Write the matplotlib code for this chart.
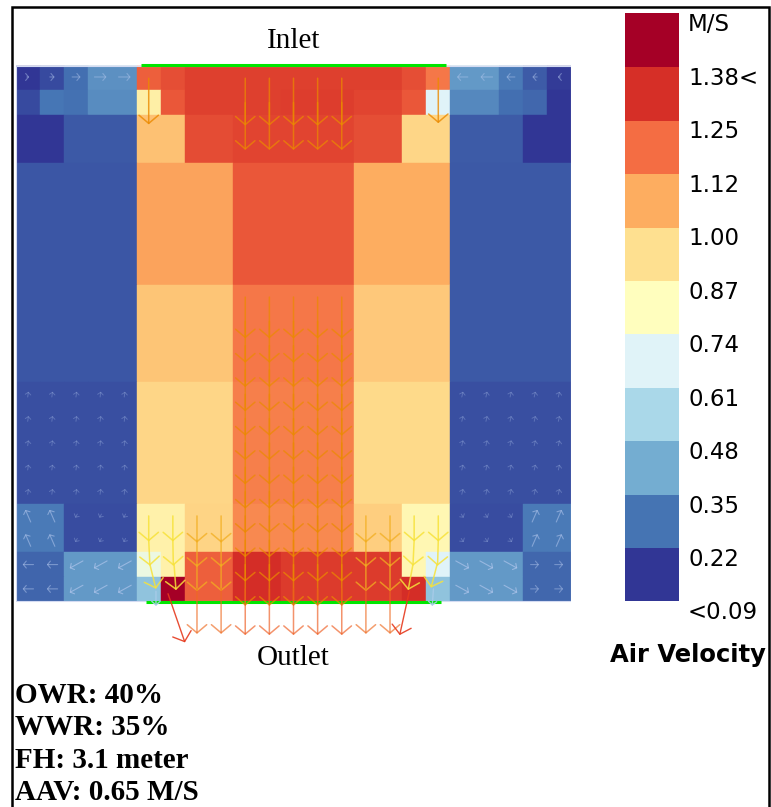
import numpy as np
import matplotlib
matplotlib.use("Agg")
import matplotlib.pyplot as plt
from matplotlib.colors import ListedColormap, Normalize
from matplotlib.patches import Rectangle

# cell edges of the room section, grid units (y counted downward from the inlet)
x_edges = [0, 1, 2, 3, 5, 6, 7, 9, 11, 14, 16, 17, 18, 20, 21, 22, 23]
y_edges = [0, 1, 2, 4, 9, 13, 18, 20, 21, 22]

# air velocity per cell (M/S), one list per band of rows
vel_0_1 = [0.15, 0.20, 0.275, 0.35, 1.215, 1.25, 1.28, 1.28, 1.28, 1.28, 1.25, 1.165, 0.37, 0.30, 0.235, 0.17]
vel_1_2 = [0.20, 0.29, 0.28, 0.34, 0.87, 1.23, 1.28, 1.28, 1.285, 1.27, 1.23, 0.67, 0.33, 0.275, 0.26, 0.16]
vel_2_4 = [0.15, 0.15, 0.23, 0.23, 1.01, 1.01, 1.255, 1.27, 1.27, 1.25, 0.955, 0.955, 0.235, 0.235, 0.16, 0.16]
vel_4_9 = [0.225, 0.225, 0.225, 0.225, 1.08, 1.08, 1.08, 1.23, 1.23, 1.06, 1.06, 1.06, 0.23, 0.23, 0.23, 0.23]
vel_9_13 = [0.225, 0.225, 0.225, 0.225, 1.00, 1.00, 1.00, 1.165, 1.165, 0.99, 0.99, 0.99, 0.23, 0.23, 0.23, 0.23]
vel_13_18 = [0.21, 0.21, 0.21, 0.21, 0.955, 0.955, 0.955, 1.15, 1.15, 0.945, 0.945, 0.945, 0.21, 0.21, 0.21, 0.21]
vel_18_20 = [0.30, 0.30, 0.205, 0.205, 0.86, 0.86, 0.96, 1.13, 1.13, 0.975, 0.835, 0.835, 0.205, 0.205, 0.30, 0.30]
vel_20_21 = [0.255, 0.255, 0.37, 0.37, 0.72, 0.86, 1.215, 1.32, 1.29, 1.29, 0.835, 0.67, 0.37, 0.37, 0.26, 0.26]
vel_21_22 = [0.255, 0.255, 0.37, 0.37, 0.48, 1.46, 1.215, 1.32, 1.29, 1.29, 1.32, 0.48, 0.37, 0.37, 0.26, 0.26]

# legend
cbar_labels = ["<0.09", "0.22", "0.35", "0.48", "0.61", "0.74", "0.87",
               "1.00", "1.12", "1.25", "1.38<", "M/S"]

info_lines = ["OWR: 40%", "WWR: 35%", "FH: 3.1 meter", "AAV: 0.65 M/S"]

# velocity vectors (tail x, tail y, u, v) in grid units, v > 0 points down
jet_cols = [9.5, 10.5, 11.5, 12.5, 13.5]
inlet_rows = [0.5, 1.5]
jet_rows = [9.5, 10.5, 11.5, 12.5, 13.5, 14.5, 15.5, 16.5, 17.5, 18.5, 19.5, 20.5]
side_cols = [7.5, 8.5, 14.5, 15.5]
side_rows = [18.5, 19.5, 20.5]

corner_x = [5.5, 5.5, 5.55, 6.5, 6.5, 6.55, 16.5, 16.5, 16.45, 17.5, 17.5, 17.45]
corner_y = [18.5, 19.5, 20.5, 18.5, 19.5, 20.5, 18.5, 19.5, 20.5, 18.5, 19.5, 20.5]
corner_u = [0.0, 0.05, 0.25, 0.0, 0.02, 0.08, 0.0, -0.05, -0.2, 0.0, -0.03, -0.25]
corner_v = [1.05, 1.05, 1.0, 1.05, 1.05, 1.05, 1.05, 1.05, 1.05, 1.05, 1.05, 0.95]

exit_x = [6.3, 16.3]
exit_y = [21.7, 21.6]
exit_u = [0.7, -0.4]
exit_v = [2.0, 1.8]

# slow air in the side zones (drawn centred on the grid point)
top_left_u = [0.1, 0.2, 0.35, 0.5, 0.5]
top_right_u = [-0.45, -0.5, -0.35, -0.2, -0.1]
left_cols = [0.5, 1.5, 2.5, 3.5, 4.5]
right_cols = [18.5, 19.5, 20.5, 21.5, 22.5]
mid_rows = [13.5, 14.5, 15.5, 16.5, 17.5]

cmap = plt.get_cmap("RdYlBu_r")
norm = Normalize(vmin=0.155, vmax=1.445)

fig = plt.figure(figsize=(7.71, 8.07), dpi=100)

ax = fig.add_axes([16 / 771, (807 - 674) / 807, 555 / 771, (674 - 17.4) / 807])
ax.set_xlim(0, 23)
ax.set_ylim(25, -2)
ax.axis("off")

vel = np.array([vel_0_1, vel_1_2, vel_2_4, vel_4_9, vel_9_13,
                vel_13_18, vel_18_20, vel_20_21, vel_21_22])
ax.pcolormesh(x_edges, y_edges, vel, cmap=cmap, norm=norm, edgecolors="face",
              linewidth=0.3, antialiased=True)
ax.add_patch(Rectangle((0, 0), 23, 22, fill=False, ec="#d4dbf2", lw=0.8))


def arrow(x, y, u, v, color, lw, head, alpha=1.0, middle=False):
    if middle:
        x, y = x - u / 2, y - v / 2
    style = "->,head_length=%.2f,head_width=%.2f" % (head * 0.85, head)
    ax.annotate("", xy=(x + u, y + v), xytext=(x, y), annotation_clip=False,
                arrowprops=dict(arrowstyle=style, color=color, lw=lw, alpha=alpha,
                                shrinkA=0, shrinkB=0, mutation_scale=10))


jet_color = "#eb8a00"
# inlet
for cx in jet_cols:
    for ry in inlet_rows:
        arrow(cx, ry, 0, 1.95, jet_color, 1.1, 0.7, 0.7)
arrow(5.5, 0.5, 0, 1.9, jet_color, 1.1, 0.7, 0.8)
arrow(17.5, 0.5, 0, 1.85, jet_color, 1.1, 0.7, 0.8)
# central jet
for cx in jet_cols:
    for ry in jet_rows:
        arrow(cx, ry, 0, 1.7, jet_color, 1.1, 0.7, 0.7)
    arrow(cx, 21.5, 0, 1.9, "#ee5a1e", 1.1, 0.7, 0.65)
# side jets
for cx in side_cols:
    for ry in side_rows:
        arrow(cx, ry, 0, 1.1, "#f2ae20", 1.1, 0.7, 0.75)
    arrow(cx, 21.5, 0, 1.85, "#ee6a20", 1.1, 0.7, 0.65)
# corners
for x, y, u, v in zip(corner_x, corner_y, corner_u, corner_v):
    arrow(x, y, u, v, "#f7e23a", 1.1, 0.7, 0.85)
for x, y, u, v in zip(exit_x, exit_y, exit_u, exit_v):
    arrow(x, y, u, v, "#e63a1e", 1.0, 0.7, 0.9)
arrow(5.8, 21.6, 0, 0.6, "#a8cbe8", 1.0, 0.3, 0.9)
arrow(17.3, 21.5, -0.05, 0.7, "#a8cbe8", 1.0, 0.3, 0.9)

slow = "#b4c8ee"
for cx, u in zip(left_cols, top_left_u):
    arrow(cx, 0.45, u, 0, slow, 0.8, 0.25, 0.45, middle=True)
for cx, u in zip(right_cols, top_right_u):
    arrow(cx, 0.45, u, 0, slow, 0.8, 0.25, 0.45, middle=True)
for ry in mid_rows:
    for cx in left_cols:
        arrow(cx, ry, 0.03, -0.22, slow, 0.7, 0.2, 0.3, middle=True)
    for cx in right_cols:
        arrow(cx, ry, 0.05, -0.22, slow, 0.7, 0.2, 0.3, middle=True)
for ry in [18.5, 19.5]:
    for cx in left_cols[:2]:
        arrow(cx, ry, -0.22, -0.5, slow, 0.8, 0.25, 0.55, middle=True)
    for cx in left_cols[2:]:
        arrow(cx, ry, -0.08, 0.15, slow, 0.7, 0.2, 0.3, middle=True)
    for cx in right_cols[:3]:
        arrow(cx, ry, 0.1, 0.15, slow, 0.7, 0.2, 0.3, middle=True)
    for cx in right_cols[3:]:
        arrow(cx, ry, 0.22, -0.5, slow, 0.8, 0.25, 0.55, middle=True)
for ry in [20.5, 21.5]:
    for cx in left_cols[:2]:
        arrow(cx, ry, -0.45, 0, slow, 0.8, 0.25, 0.5, middle=True)
    for cx in left_cols[2:]:
        arrow(cx, ry, -0.55, 0.3, slow, 0.8, 0.25, 0.65, middle=True)
    for cx in right_cols[:3]:
        arrow(cx, ry, 0.55, 0.3, slow, 0.8, 0.25, 0.65, middle=True)
    for cx in right_cols[3:]:
        arrow(cx, ry, 0.35, 0, slow, 0.8, 0.25, 0.45, middle=True)

# inlet / outlet openings
ax.plot([5.2, 17.8], [-0.06, -0.06], color="#00e600", lw=2.2, solid_capstyle="butt")
ax.plot([5.4, 17.6], [22.05, 22.05], color="#00e600", lw=2.2, solid_capstyle="butt")
ax.text(11.5, -0.74, "Inlet", ha="center", va="baseline",
        family="Liberation Serif", fontsize=21)
ax.text(11.5, 24.63, "Outlet", ha="center", va="baseline",
        family="Liberation Serif", fontsize=21)

# legend bar
cax = fig.add_axes([625 / 771, (807 - 600.7) / 807, 54 / 771, 588 / 807])
cax.set_xlim(0, 1)
cax.set_ylim(0, 11)
cax.axis("off")
bar_cmap = ListedColormap(cmap(np.linspace(0, 1, 11)))
cax.pcolormesh([0, 1], np.arange(12), np.arange(11).reshape(-1, 1), cmap=bar_cmap,
               edgecolors="face", linewidth=0.3)
for i, lab in enumerate(cbar_labels):
    cax.text(1.167, i - 0.23, lab, ha="left", va="center", fontsize=16.5,
             family="DejaVu Sans")
fig.text(688 / 771, 1 - 662 / 807, "Air Velocity", ha="center", va="baseline",
         fontsize=17.5, fontweight="bold", family="DejaVu Sans")

# case parameters
for k, line in enumerate(info_lines):
    fig.text(15 / 771, 1 - (703 + 32.3 * k) / 807, line, ha="left", va="baseline",
             family="Liberation Serif", fontweight="bold", fontsize=21)

# outer frame
fig.patches.append(Rectangle((12 / 771, -0.02), (769 - 12) / 771, 1.02 - 7 / 807,
                             transform=fig.transFigure, fill=False, ec="black", lw=1.8))

fig.savefig("out.png", dpi=100)
